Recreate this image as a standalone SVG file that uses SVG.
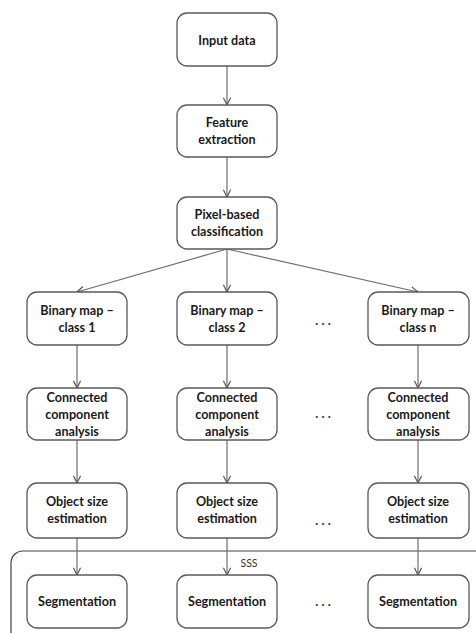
<svg xmlns="http://www.w3.org/2000/svg" width="476" height="633" viewBox="0 0 476 633">
<defs>
<style>
.box{fill:#fff;stroke:#595959;stroke-width:1.3}
.t{font-family:Lato,"Liberation Sans",sans-serif;font-weight:bold;font-size:12.6px;fill:#1a1a1a;text-anchor:middle}
.c{stroke:#6e6e6e;stroke-width:1.2;fill:none}
.dots{font-family:Lato,"Liberation Sans",sans-serif;font-weight:bold;font-size:13px;fill:#333;text-anchor:middle}
</style>
<marker id="ah" viewBox="0 0 10 10" refX="9" refY="5" markerWidth="9" markerHeight="9" markerUnits="userSpaceOnUse" orient="auto">
<path d="M1,1 L9,5 L1,9" fill="none" stroke="#555" stroke-width="1.3"/>
</marker>
</defs>
<rect width="476" height="633" fill="#fff"/>
<path d="M476,551 H23 A12,12 0 0 0 11,563 V633" fill="none" stroke="#404040" stroke-width="1.2"/>
<text x="249" y="567" font-family="Lato,'Liberation Sans',sans-serif" font-size="10.5" fill="#333" text-anchor="middle">SSS</text>
<g id="connectors">
<line class="c" x1="227" y1="66" x2="227" y2="105" marker-end="url(#ah)"/>
<line class="c" x1="227" y1="157" x2="227" y2="197" marker-end="url(#ah)"/>
<line class="c" x1="227" y1="249" x2="77" y2="292" marker-end="url(#ah)"/>
<line class="c" x1="227" y1="249" x2="227" y2="292" marker-end="url(#ah)"/>
<line class="c" x1="227" y1="249" x2="418" y2="292" marker-end="url(#ah)"/>
<line class="c" x1="77" y1="345" x2="77" y2="388" marker-end="url(#ah)"/>
<line class="c" x1="227" y1="345" x2="227" y2="388" marker-end="url(#ah)"/>
<line class="c" x1="418" y1="345" x2="418" y2="388" marker-end="url(#ah)"/>
<line class="c" x1="77" y1="440" x2="77" y2="483" marker-end="url(#ah)"/>
<line class="c" x1="227" y1="440" x2="227" y2="483" marker-end="url(#ah)"/>
<line class="c" x1="418" y1="440" x2="418" y2="483" marker-end="url(#ah)"/>
<line class="c" x1="77" y1="538" x2="77" y2="575" marker-end="url(#ah)"/>
<line class="c" x1="227" y1="538" x2="227" y2="575" marker-end="url(#ah)"/>
<line class="c" x1="418" y1="538" x2="418" y2="575" marker-end="url(#ah)"/>
</g>
<g id="input"><rect class="box" x="177" y="13" width="100" height="53" rx="10"/><text class="t" x="227" y="45">Input data</text></g>
<g id="feature"><rect class="box" x="177" y="105" width="100" height="52" rx="10"/><text class="t" x="227" y="127">Feature</text><text class="t" x="227" y="144">extraction</text></g>
<g id="pixel"><rect class="box" x="177" y="197" width="100" height="52" rx="10"/><text class="t" x="227" y="219">Pixel-based</text><text class="t" x="227" y="236">classification</text></g>
<g id="bin1"><rect class="box" x="27" y="292" width="100" height="53" rx="10"/><text class="t" x="77" y="315">Binary map –</text><text class="t" x="77" y="332">class 1</text></g>
<g id="bin2"><rect class="box" x="177" y="292" width="100" height="53" rx="10"/><text class="t" x="227" y="315">Binary map –</text><text class="t" x="227" y="332">class 2</text></g>
<g id="binn"><rect class="box" x="368" y="292" width="101" height="53" rx="10"/><text class="t" x="418" y="315">Binary map –</text><text class="t" x="418" y="332">class n</text></g>
<g id="cc1"><rect class="box" x="27" y="388" width="100" height="52" rx="10"/><text class="t" x="77" y="402">Connected</text><text class="t" x="77" y="419">component</text><text class="t" x="77" y="436">analysis</text></g>
<g id="cc2"><rect class="box" x="177" y="388" width="100" height="52" rx="10"/><text class="t" x="227" y="402">Connected</text><text class="t" x="227" y="419">component</text><text class="t" x="227" y="436">analysis</text></g>
<g id="ccn"><rect class="box" x="368" y="388" width="101" height="52" rx="10"/><text class="t" x="418" y="402">Connected</text><text class="t" x="418" y="419">component</text><text class="t" x="418" y="436">analysis</text></g>
<g id="os1"><rect class="box" x="27" y="483" width="100" height="55" rx="10"/><text class="t" x="77" y="506">Object size</text><text class="t" x="77" y="523">estimation</text></g>
<g id="os2"><rect class="box" x="177" y="483" width="100" height="55" rx="10"/><text class="t" x="227" y="506">Object size</text><text class="t" x="227" y="523">estimation</text></g>
<g id="osn"><rect class="box" x="368" y="483" width="101" height="55" rx="10"/><text class="t" x="418" y="506">Object size</text><text class="t" x="418" y="523">estimation</text></g>
<g id="seg1"><rect class="box" x="27" y="575" width="100" height="53" rx="10"/><text class="t" x="77" y="606">Segmentation</text></g>
<g id="seg2"><rect class="box" x="177" y="575" width="100" height="53" rx="10"/><text class="t" x="227" y="606">Segmentation</text></g>
<g id="segn"><rect class="box" x="368" y="575" width="101" height="53" rx="10"/><text class="t" x="418" y="606">Segmentation</text></g>
<g id="dots">
<text class="dots" x="323" y="325">. . .</text>
<text class="dots" x="323" y="418">. . .</text>
<text class="dots" x="323" y="525">. . .</text>
<text class="dots" x="323" y="606">. . .</text>
</g>
</svg>
